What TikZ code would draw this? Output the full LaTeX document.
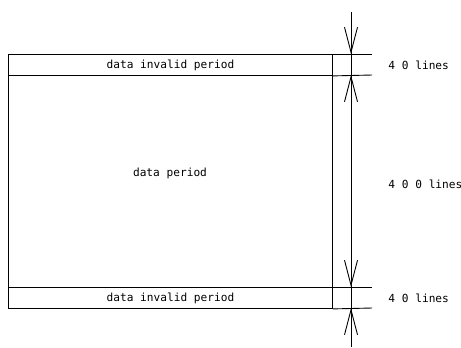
\documentclass[tikz,border=0pt]{standalone}
\usepackage{fontspec}
\setmainfont{DejaVu Sans Mono}
\usetikzlibrary{arrows.meta}
\begin{document}
\begin{tikzpicture}[x=1bp,y=-1bp,line width=0.9bp,
  lbl/.style={font=\fontsize{11.2}{13}\selectfont, inner sep=0pt},
  band/.style={draw, minimum width=324bp, minimum height=21bp, inner sep=0pt, anchor=north west, lbl},
  body/.style={draw, minimum width=324bp, minimum height=212bp, inner sep=0pt, anchor=north west},
  ext/.style={line width=0.9bp},
  dimarrow/.style={-{Straight Barb[length=25bp,width=13bp,line width=0.9bp]}}]
\useasboundingbox (0,0) rectangle (461,347);
\node[body] (mid) at (8,75) {};
\node[band] (top) at (8,54) {data invalid period};
\node[band] (bot) at (8,287) {data invalid period};
\node[lbl] (mlabel) at (170,173) {data period};
% extension lines
\coordinate (e1) at (372,54);
\coordinate (e2) at (372,75);
\coordinate (e3) at (372,287);
\coordinate (e4) at (372,308);
\draw[ext] (top.north east) -- (e1);
\draw[ext] (top.south east) -- (e2);
\draw[ext] (bot.north east) -- (e3);
\draw[ext] (bot.south east) -- (e4);
% dimension line
\coordinate (dtop) at (351,12);
\coordinate (dbot) at (351,347);
\draw (dtop) -- (dbot);
\coordinate (t1) at (351,54);
\coordinate (t2) at (351,75);
\coordinate (t3) at (351,287);
\coordinate (t4) at (351,308);
\coordinate (a1) at (351,28);
\coordinate (a2) at (351,101);
\coordinate (a3) at (351,261);
\coordinate (a4) at (351,334);
\draw[dimarrow] (a1) -- (t1);
\draw[dimarrow] (a2) -- (t2);
\draw[dimarrow] (a3) -- (t3);
\draw[dimarrow] (a4) -- (t4);
% labels
\node[lbl, anchor=west] (l1) at (388,65) {4 0 lines};
\node[lbl, anchor=west] (l2) at (388,184) {4 0 0 lines};
\node[lbl, anchor=west] (l3) at (388,298) {4 0 lines};
\end{tikzpicture}
\end{document}
